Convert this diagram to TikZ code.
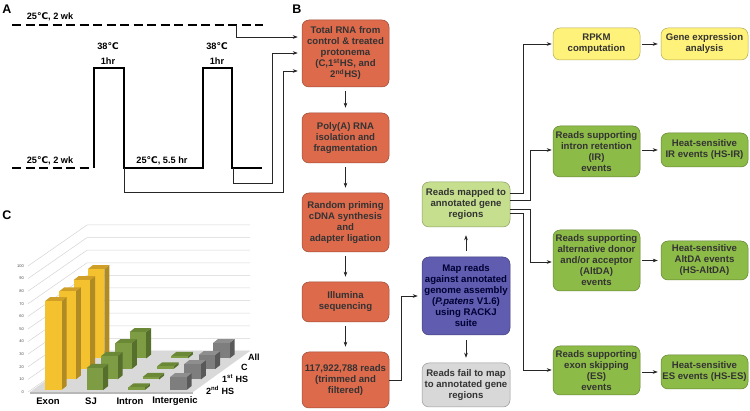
\documentclass[tikz,border=0pt]{standalone}
\usepackage{fontspec}
\setmainfont{Liberation Sans}
\newfontfamily\djv{DejaVu Sans}
\usetikzlibrary{arrows.meta}
\definecolor{salmon}{HTML}{DE6A4C}
\definecolor{lgreen}{HTML}{C6DF8E}
\definecolor{dgreen}{HTML}{8DBB48}
\definecolor{yel}{HTML}{FFF27A}
\definecolor{blu}{HTML}{605CB0}
\definecolor{gry}{HTML}{D8D8D8}
\definecolor{yF}{HTML}{F3C22E}
\definecolor{yS}{HTML}{B08A22}
\definecolor{yT}{HTML}{CF9F28}
\definecolor{gF}{HTML}{7D9C43}
\definecolor{gS}{HTML}{566F2C}
\definecolor{gT}{HTML}{6A8836}
\definecolor{kF}{HTML}{7E7E7E}
\definecolor{kS}{HTML}{595959}
\definecolor{kT}{HTML}{8E8E8E}
\definecolor{floorc}{HTML}{D9D9D9}
\definecolor{gridc}{HTML}{D4D4D4}
\definecolor{txt}{HTML}{333333}
\newcommand{\dC}{{\djv ℃}}
\newcommand{\cbar}[4]{%
\pgfmathsetmacro{\bx}{45+41.7*#1+14.3*#2}%
\pgfmathsetmacro{\by}{390-10.5*#2}%
\pgfmathsetmacro{\bt}{\by-1.26*#3}%
\fill[#4S] (\bx+16.5,\by) -- (\bx+21.5,\by-4) -- (\bx+21.5,\bt-4) -- (\bx+16.5,\bt) -- cycle;
\fill[#4T] (\bx,\bt) -- (\bx+5,\bt-4) -- (\bx+21.5,\bt-4) -- (\bx+16.5,\bt) -- cycle;
\fill[#4F] (\bx,\by) rectangle (\bx+16.5,\bt);
}
\begin{document}
\begin{tikzpicture}[x=1pt,y=-1pt,
  box/.style={rounded corners=7pt, draw=#1!70!black, fill=#1, line width=0.5pt,
    minimum width=87pt, inner sep=0.5pt, align=center,
    font=\bfseries\fontsize{9.6}{11}\selectfont, text=txt},
  arr/.style={draw=black!85, line width=0.6pt, -{Stealth[length=5pt,width=3.6pt]}},
  wave/.style={line width=2pt, line join=miter},
  dashln/.style={line width=2pt, dash pattern=on 9pt off 4.5pt},
  lbl/.style={font=\bfseries\fontsize{9.2}{10}\selectfont},
  panel/.style={font=\bfseries\fontsize{12.5}{13}\selectfont},
  gridln/.style={draw=gridc, line width=0.5pt},
  tick/.style={font=\fontsize{4}{4}\selectfont, text=black!70, inner sep=0pt},
  cat/.style={font=\bfseries\fontsize{9.5}{10}\selectfont},
  ser/.style={font=\bfseries\fontsize{9}{10}\selectfont, anchor=west, inner sep=0pt}]
\useasboundingbox (0,0) rectangle (750,411);

% ---------- Panel A ----------
\node[panel] (pa) at (7,9) {A};
\node[lbl] (t1) at (50,17) {25\dC, 2 wk};
\node[lbl] (t2) at (108,46) {38\dC};
\node[lbl] (t3) at (108,61) {1hr};
\node[lbl] (t4) at (217,46) {38\dC};
\node[lbl] (t5) at (217,61) {1hr};
\node[lbl] (t6) at (50,161) {25\dC, 2 wk};
\node[lbl] (t7) at (162,161) {25\dC, 5.5 hr};
\draw[dashln] (12,25) -- (263,25);
\draw[dashln] (12,168) -- (90,168);
\draw[wave] (94,168) -- (94,68) -- (124,68) -- (124,168) -- (203,168) -- (203,68) -- (232,68) -- (232,168) -- (262,168);
\coordinate (s1) at (236,25);
\coordinate (s2) at (233,168);
\coordinate (s3) at (124,168);

% ---------- Panel B ----------
\node[panel] (pb) at (297,9) {B};
\node[box=salmon, minimum height=67pt] (b1) at (345.5,53.5)
  {Total RNA from\\control \& treated\\protonema\\(C,1\textsuperscript{st}HS, and\\2\textsuperscript{nd}HS)};
\node[box=salmon, minimum height=50pt] (b2) at (345.5,138) {Poly(A) RNA\\isolation and\\fragmentation};
\node[box=salmon, minimum height=59pt] (b3) at (345.5,222.5) {Random priming\\cDNA synthesis\\and\\adapter ligation};
\node[box=salmon, minimum height=40pt] (b4) at (345.5,302) {Illumina\\sequencing};
\node[box=salmon, minimum height=56pt] (b5) at (345.5,380) {117,922,788 reads\\(trimmed and\\filtered)};
\node[box=blu, minimum width=88pt, minimum height=78pt, text=black!80!blue] (bl) at (466,296)
  {Map reads\\against annotated\\genome assembly\\(\textit{P.patens} V1.6)\\using RACKJ\\suite};
\node[box=gry, minimum width=88pt, minimum height=44pt] (gy) at (466,385) {Reads fail to map\\to annotated gene\\regions};
\node[box=lgreen, minimum width=88pt, minimum height=45pt] (lg) at (466,204.5) {Reads mapped to\\annotated gene\\regions};
\node[box=yel, minimum height=32pt] (rp) at (596.5,44) {RPKM\\computation};
\node[box=yel, minimum height=32pt] (ge) at (704.5,44) {Gene expression\\analysis};
\node[box=dgreen, minimum height=51pt] (ir) at (596.5,151.5) {Reads supporting\\intron retention\\(IR)\\events};
\node[box=dgreen, minimum height=34pt] (hir) at (704.5,150) {Heat-sensitive\\IR events (HS-IR)};
\node[box=dgreen, minimum height=61pt] (ad) at (596.5,260.5) {Reads supporting\\alternative donor\\and/or acceptor\\(AltDA)\\events};
\node[box=dgreen, minimum height=39pt] (had) at (704.5,260.5) {Heat-sensitive\\AltDA events\\(HS-AltDA)};
\node[box=dgreen, minimum height=49pt] (es) at (596.5,370.5) {Reads supporting\\exon skipping\\(ES)\\events};
\node[box=dgreen, minimum height=34pt] (hes) at (704.5,372) {Heat-sensitive\\ES events (HS-ES)};

% connectors A -> B
\draw[arr, shorten >=4pt] (s1) |- (b1.west |- 0,37);
\draw[arr, shorten >=4pt] (s2) -- (233,183) -- (272,183) -- (272,53) -- (b1.west |- 0,53);
\draw[arr, shorten >=4pt] (s3) -- (124,192) -- (283,192) -- (283,71) -- (b1.west |- 0,71);
% vertical chain
\draw[arr, shorten <=4pt, shorten >=5pt] (b1) -- (b2);
\draw[arr, shorten <=4pt, shorten >=5pt] (b2) -- (b3);
\draw[arr, shorten <=4pt, shorten >=5pt] (b3) -- (b4);
\draw[arr, shorten <=4pt, shorten >=5pt] (b4) -- (b5);
\draw[arr, shorten >=4pt] (b5.east) -- (401,380) -- (401,296) -- (bl.west);
\draw[arr, shorten <=6pt, shorten >=8pt] (bl) -- (lg);
\draw[arr, shorten <=5pt, shorten >=5pt] (bl) -- (gy);
% branches
\draw[arr, shorten >=1pt] (lg.east |- 0,193) -- (523,193) -- (523,44) -- (rp.west);
\draw[arr, shorten >=1pt] (lg.east |- 0,200) -- (530,200) -- (530,150) -- (ir.west |- 0,150);
\draw[arr, shorten >=1pt] (lg.east |- 0,209) -- (530,209) -- (530,262) -- (ad.west |- 0,262);
\draw[arr, shorten >=1pt] (lg.east |- 0,213) -- (523,213) -- (523,370) -- (es.west |- 0,370);
\draw[arr, shorten <=2pt, shorten >=3pt] (rp) -- (ge);
\draw[arr, shorten <=2pt, shorten >=3pt] (ir.east |- 0,150) -- (hir.west |- 0,150);
\draw[arr, shorten <=2pt, shorten >=3pt] (ad) -- (had);
\draw[arr, shorten <=2pt, shorten >=3pt] (es.east |- 0,372) -- (hes.west |- 0,372);

% ---------- Panel C ----------
\node[panel] (pc) at (7,215) {C};
\foreach \k [evaluate=\k as \lab using int(10*\k)] in {0,...,10} {
  \draw[gridln] (28,{392-12.6*\k}) -- (87,{351-12.6*\k}) -- (250,{351-12.6*\k});
  \node[tick, anchor=east] at (24,{392-12.6*\k}) {\lab};
}
\fill[floorc!85!black] (30,392) -- (193,392) -- (193,394) -- (30,394) -- cycle;
\fill[floorc] (30,392) -- (193,392) -- (250,351) -- (87,351) -- cycle;
\foreach \r/\e/\s/\i/\g in {3/71/21/2/12.3, 2/70.5/20.5/2/11.1, 1/70/18.5/2/12.3, 0/70.5/17.5/2/10.3} {
  \cbar{0}{\r}{\e}{y}
  \cbar{1}{\r}{\s}{g}
  \cbar{2}{\r}{\i}{g}
  \cbar{3}{\r}{\g}{k}
}
\node[cat] (c1) at (48,401) {Exon};
\node[cat] (c2) at (91,401) {SJ};
\node[cat] (c3) at (130,401) {Intron};
\node[cat] (c4) at (175,401) {Intergenic};
\node[ser] (r1) at (248,357) {All};
\node[ser] (r2) at (241,367) {C};
\node[ser] (r3) at (222,379) {1\textsuperscript{st} HS};
\node[ser] (r4) at (206,390) {2\textsuperscript{nd} HS};
\end{tikzpicture}
\end{document}
